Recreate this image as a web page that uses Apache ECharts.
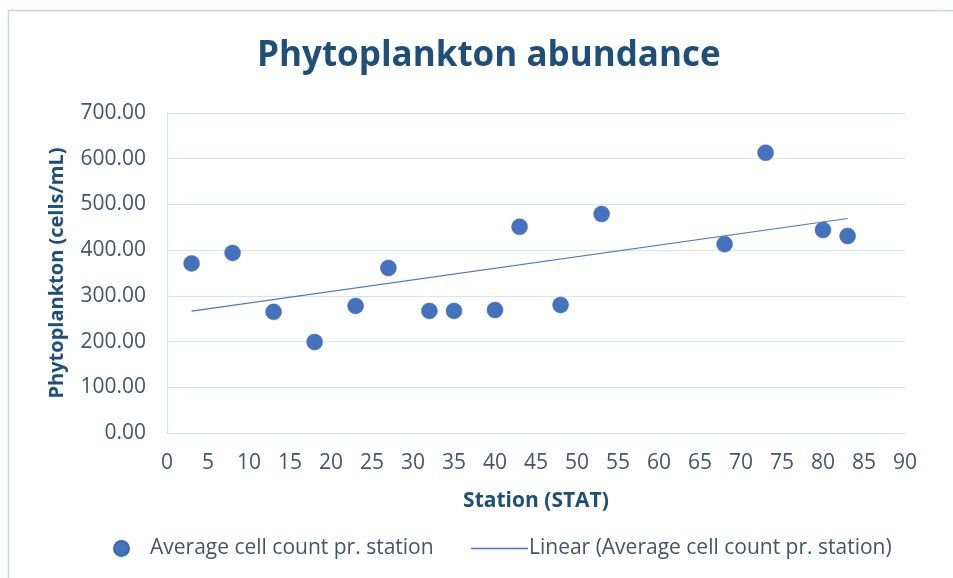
<!DOCTYPE html>
<html>
<head>
<meta charset="utf-8">
<title>Phytoplankton abundance</title>
<script src="https://cdn.jsdelivr.net/npm/echarts@6/dist/echarts.min.js"></script>
<style>
  html, body { margin: 0; padding: 0; background: #fff; }
  #chart { width: 953px; height: 578px; }
</style>
</head>
<body>
<div id="chart"></div>
<script>
// stations and average cell counts
var stations = [3, 8, 13, 18, 23, 27, 32, 35, 40, 43, 48, 53, 68, 73, 80, 83];
var cellCounts = [371, 394, 265, 199, 278, 361, 267, 267, 269, 451, 280, 479, 413, 613, 444, 431];
var xTicks = [0, 90, 5];     // min, max, step
var yTicks = [0, 700, 100];

var scatterName = "Average cell count pr. station";
var trendName = "Linear (Average cell count pr. station)";

// least squares trendline, like excel's "Linear" option
function linearFit(xs, ys) {
  var n = xs.length, mx = 0, my = 0;
  for (var i = 0; i < n; i++) { mx += xs[i]; my += ys[i]; }
  mx /= n; my /= n;
  var sxy = 0, sxx = 0;
  for (var j = 0; j < n; j++) {
    sxy += (xs[j] - mx) * (ys[j] - my);
    sxx += (xs[j] - mx) * (xs[j] - mx);
  }
  var b = sxy / sxx;
  return { a: my - b * mx, b: b };
}

var fit = linearFit(stations, cellCounts);
var x0 = Math.min.apply(null, stations);
var x1 = Math.max.apply(null, stations);
var trendData = [[x0, fit.a + fit.b * x0], [x1, fit.a + fit.b * x1]];
var points = stations.map(function (s, i) { return [s, cellCounts[i]]; });

var font = "'Open Sans', 'Noto Sans', sans-serif";
var labelColor = "#44546A";
var titleColor = "#1F4E79";
var gridColor = "#D9E2F1";
var dotColor = "#4472BD";

var chart = echarts.init(document.getElementById("chart"));
chart.setOption({
  animation: false,
  textStyle: { fontFamily: font },
  graphic: [
    {
      type: "rect",
      shape: { x: 8.5, y: 10.5, width: 1200, height: 1200 },
      style: { fill: "none", stroke: "#C8D6EA", lineWidth: 1.5 },
      silent: true
    }
  ],
  title: {
    text: "Phytoplankton abundance",
    left: 252,
    top: 34,
    textStyle: { fontFamily: font, fontSize: 35, fontWeight: "bold", color: titleColor }
  },
  grid: { left: 167, right: 48, top: 113, bottom: 145, containLabel: false },
  xAxis: {
    type: "value",
    min: xTicks[0],
    max: xTicks[1],
    interval: xTicks[2],
    name: "Station (STAT)",
    nameLocation: "middle",
    nameGap: 58,
    nameTextStyle: { fontFamily: font, fontSize: 21, fontWeight: "bold", color: titleColor },
    axisLine: { show: true, lineStyle: { color: gridColor, width: 1 } },
    axisTick: { show: false },
    splitLine: { show: false },
    axisLabel: { margin: 20, fontSize: 21, color: labelColor, fontFamily: font }
  },
  yAxis: {
    type: "value",
    min: yTicks[0],
    max: yTicks[1],
    interval: yTicks[2],
    name: "Phytoplankton (cells/mL)",
    nameLocation: "middle",
    nameGap: 100,
    nameTextStyle: { fontFamily: font, fontSize: 20, fontWeight: "bold", color: titleColor },
    axisLine: { show: true, lineStyle: { color: gridColor, width: 1 } },
    axisTick: { show: false },
    splitLine: { show: true, lineStyle: { color: gridColor, width: 1 } },
    axisLabel: {
      margin: 21,
      fontSize: 21,
      color: labelColor,
      fontFamily: font,
      formatter: function (v) { return v.toFixed(2); }
    }
  },
  legend: [
    {
      data: [{ name: scatterName, icon: "circle" }],
      left: 108,
      top: 533,
      itemWidth: 15,
      itemHeight: 15,
      itemGap: 0,
      textStyle: { fontFamily: font, fontSize: 21, color: labelColor, padding: [0, 0, 0, 16] }
    },
    {
      data: [{ name: trendName, icon: "rect" }],
      left: 466,
      top: 533,
      itemWidth: 57,
      itemHeight: 1.5,
      textStyle: { fontFamily: font, fontSize: 21, color: labelColor, padding: [0, 0, 0, -4] }
    }
  ],
  series: [
    {
      name: scatterName,
      type: "scatter",
      data: points,
      symbolSize: 16,
      itemStyle: { color: dotColor, opacity: 1, borderColor: "#3E69AE", borderWidth: 0.5 }
    },
    {
      name: trendName,
      type: "line",
      data: trendData,
      symbol: "none",
      lineStyle: { color: "#4A78C0", width: 1.2 },
      itemStyle: { color: "#4A78C0" }
    }
  ]
});
</script>
</body>
</html>
